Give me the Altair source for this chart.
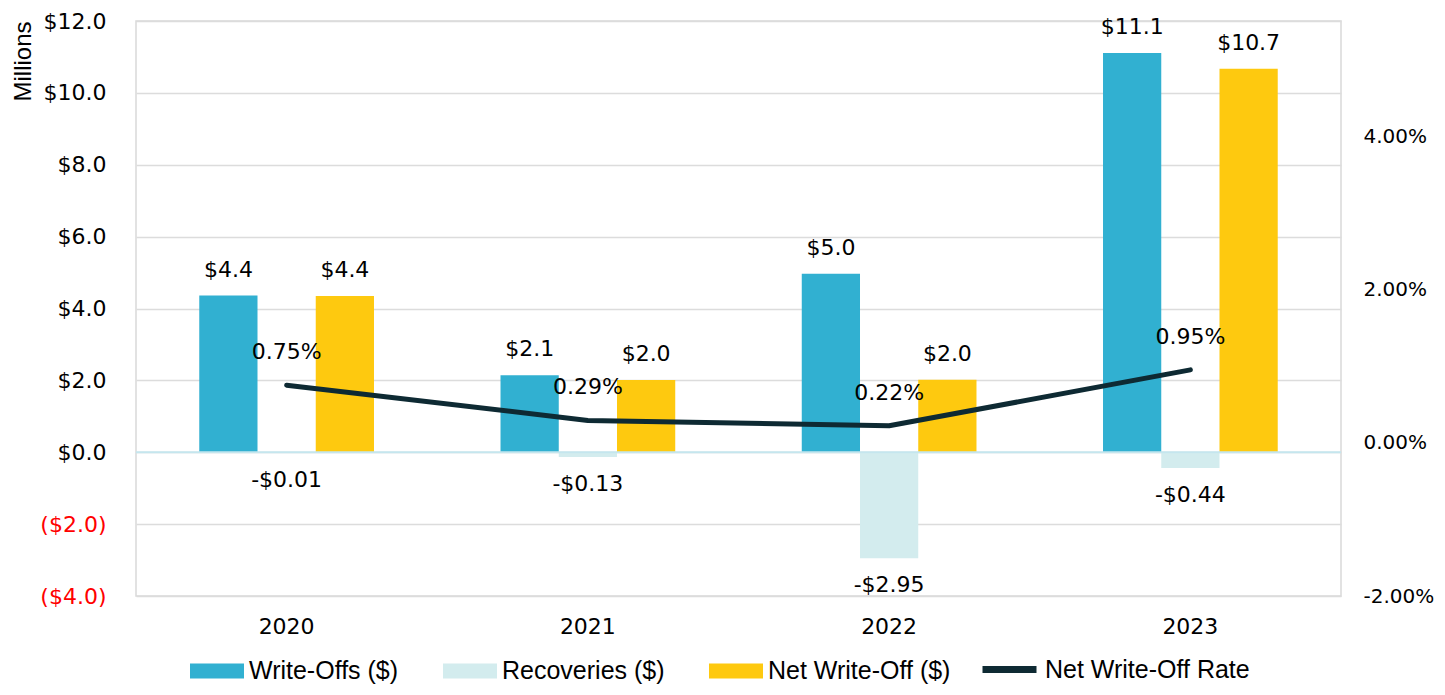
import altair as alt
import pandas as pd

years = ["2020", "2021", "2022", "2023"]
series = ["Write-Offs ($)", "Recoveries ($)", "Net Write-Off ($)"]
colors = ["#31b0d1", "#d3ecee", "#fec90f"]
write_offs = [4.36, 2.14, 4.97, 11.11]
recoveries = [-0.01, -0.13, -2.95, -0.44]
net_write_off = [4.35, 2.01, 2.02, 10.67]
wo_labels = ["$4.4", "$2.1", "$5.0", "$11.1"]
rec_labels = ["-$0.01", "-$0.13", "-$2.95", "-$0.44"]
net_labels = ["$4.4", "$2.0", "$2.0", "$10.7"]
rate = [0.0075, 0.0029, 0.0022, 0.0095]
rate_labels = ["0.75%", "0.29%", "0.22%", "0.95%"]
rate_name = "Net Write-Off Rate"
left_ticks = [-4, -2, 0, 2, 4, 6, 8, 10, 12]
right_ticks = [-0.02, 0.0, 0.02, 0.04]

NUM_FONT = "DejaVu Sans"
NARROW_FONT = "Liberation Sans Narrow, Liberation Sans"
FS = 22

rows = []
for s, vals, labs in zip(series, [write_offs, recoveries, net_write_off],
                         [wo_labels, rec_labels, net_labels]):
    for y, v, l in zip(years, vals, labs):
        rows.append({"year": y, "series": s, "value": v, "label": l})
bars_df = pd.DataFrame(rows)
rate_df = pd.DataFrame({"year": years, "rate": rate, "label": rate_labels,
                        "name": [rate_name] * len(years)})

x_enc = alt.X("year:N", sort=years,
              scale=alt.Scale(paddingInner=0.42, paddingOuter=0.21),
              axis=alt.Axis(title=None, labelAngle=0, domain=False, ticks=False,
                            labelPadding=20, labelFont=NUM_FONT, labelFontSize=FS,
                            labelColor="#000000"))
xoff = alt.XOffset("series:N", sort=series,
                   scale=alt.Scale(paddingInner=0, paddingOuter=0))
y_left = alt.Y("value:Q",
               scale=alt.Scale(domain=[-4, 12], nice=False, zero=False),
               axis=alt.Axis(values=left_ticks,
                             labelExpr="datum.value < 0 ? '($' + format(-datum.value, '.1f') + ')' : '$' + format(datum.value, '.1f')",
                             labelColor={"condition": {"test": "datum.value < 0", "value": "#ff0000"},
                                         "value": "#000000"},
                             labelFont=NUM_FONT, labelFontSize=FS, labelPadding=30,
                             ticks=False, domain=False, grid=True,
                             gridColor="#dcdcdc", gridWidth=1.5,
                             title="Millions", titleFont="Liberation Sans", titleFontSize=24,
                             titleFontWeight="normal", titleColor="#000000",
                             titleAngle=270, titleAlign="right", titleBaseline="middle",
                             titleX=-113, titleY=0))

legend_common = dict(title=None, orient="none", labelFont=NARROW_FONT, labelFontSize=25,
                     labelLimit=400, labelColor="#000000", labelOffset=5)

base = alt.Chart(bars_df)
bars = base.mark_bar().encode(
    x=x_enc, xOffset=xoff, y=y_left,
    color=alt.Color("series:N", sort=series,
                    scale=alt.Scale(domain=series, range=colors),
                    legend=alt.Legend(legendX=54, legendY=623,
                                      direction="horizontal",
                                      symbolType="M-1,-0.28H1V0.28H-1Z", symbolSize=2916,
                                      symbolStrokeWidth=0, symbolOpacity=1,
                                      columnPadding=44, **legend_common)),
)
pos_text = base.transform_filter("datum.value >= 0").mark_text(
    baseline="middle", dy=-26, font=NUM_FONT, fontSize=FS, color="#000000"
).encode(x=x_enc, xOffset=xoff, y=alt.Y("value:Q"), text="label:N")
neg_text = base.transform_filter("datum.value < 0").mark_text(
    baseline="middle", dy=27, font=NUM_FONT, fontSize=FS, color="#000000"
).encode(x=x_enc, xOffset=xoff, y=alt.Y("value:Q"), text="label:N")
zero_rule = alt.Chart(pd.DataFrame({"z": [0]})).mark_rule(
    color="#c5e6ee", strokeWidth=2).encode(y=alt.Y("z:Q"))

left_layer = alt.layer(bars, zero_rule, pos_text, neg_text)

y_right = alt.Y("rate:Q",
                scale=alt.Scale(domain=[-0.02, 0.055], nice=False, zero=False),
                axis=alt.Axis(orient="right", values=right_ticks,
                              labelExpr="(datum.value < 0 ? '-' : '') + format(abs(datum.value), '.2%')",
                              labelFont=NUM_FONT, labelFontSize=20, labelPadding=22,
                              labelColor="#000000", ticks=False, domain=False,
                              grid=False, title=None))
rbase = alt.Chart(rate_df)
line = rbase.mark_line(strokeWidth=5, strokeCap="round", strokeJoin="round").encode(
    x=alt.X("year:N", sort=years),
    y=y_right,
    stroke=alt.Stroke("name:N",
                      scale=alt.Scale(domain=[rate_name], range=["#0e2a33"]),
                      legend=alt.Legend(legendX=843, legendY=618,
                                        symbolType="stroke", symbolSize=2916,
                                        symbolStrokeWidth=7, **legend_common)),
)
rate_text = rbase.mark_text(baseline="middle", dy=-33, font=NUM_FONT, fontSize=FS,
                            color="#000000").encode(
    x=alt.X("year:N", sort=years), y=alt.Y("rate:Q"), text="label:N")
right_layer = alt.layer(line, rate_text)

chart = alt.layer(left_layer, right_layer).resolve_scale(
    y="independent"
).properties(
    width=1205, height=575,
    autosize=alt.AutoSizeParams(type="none"),
    padding={"left": 128, "top": 13, "right": 96, "bottom": 91},
).configure_view(stroke="#d9d9d9", strokeWidth=1.5)

chart.save("out.html", embed_options={"renderer": "svg", "actions": False})
